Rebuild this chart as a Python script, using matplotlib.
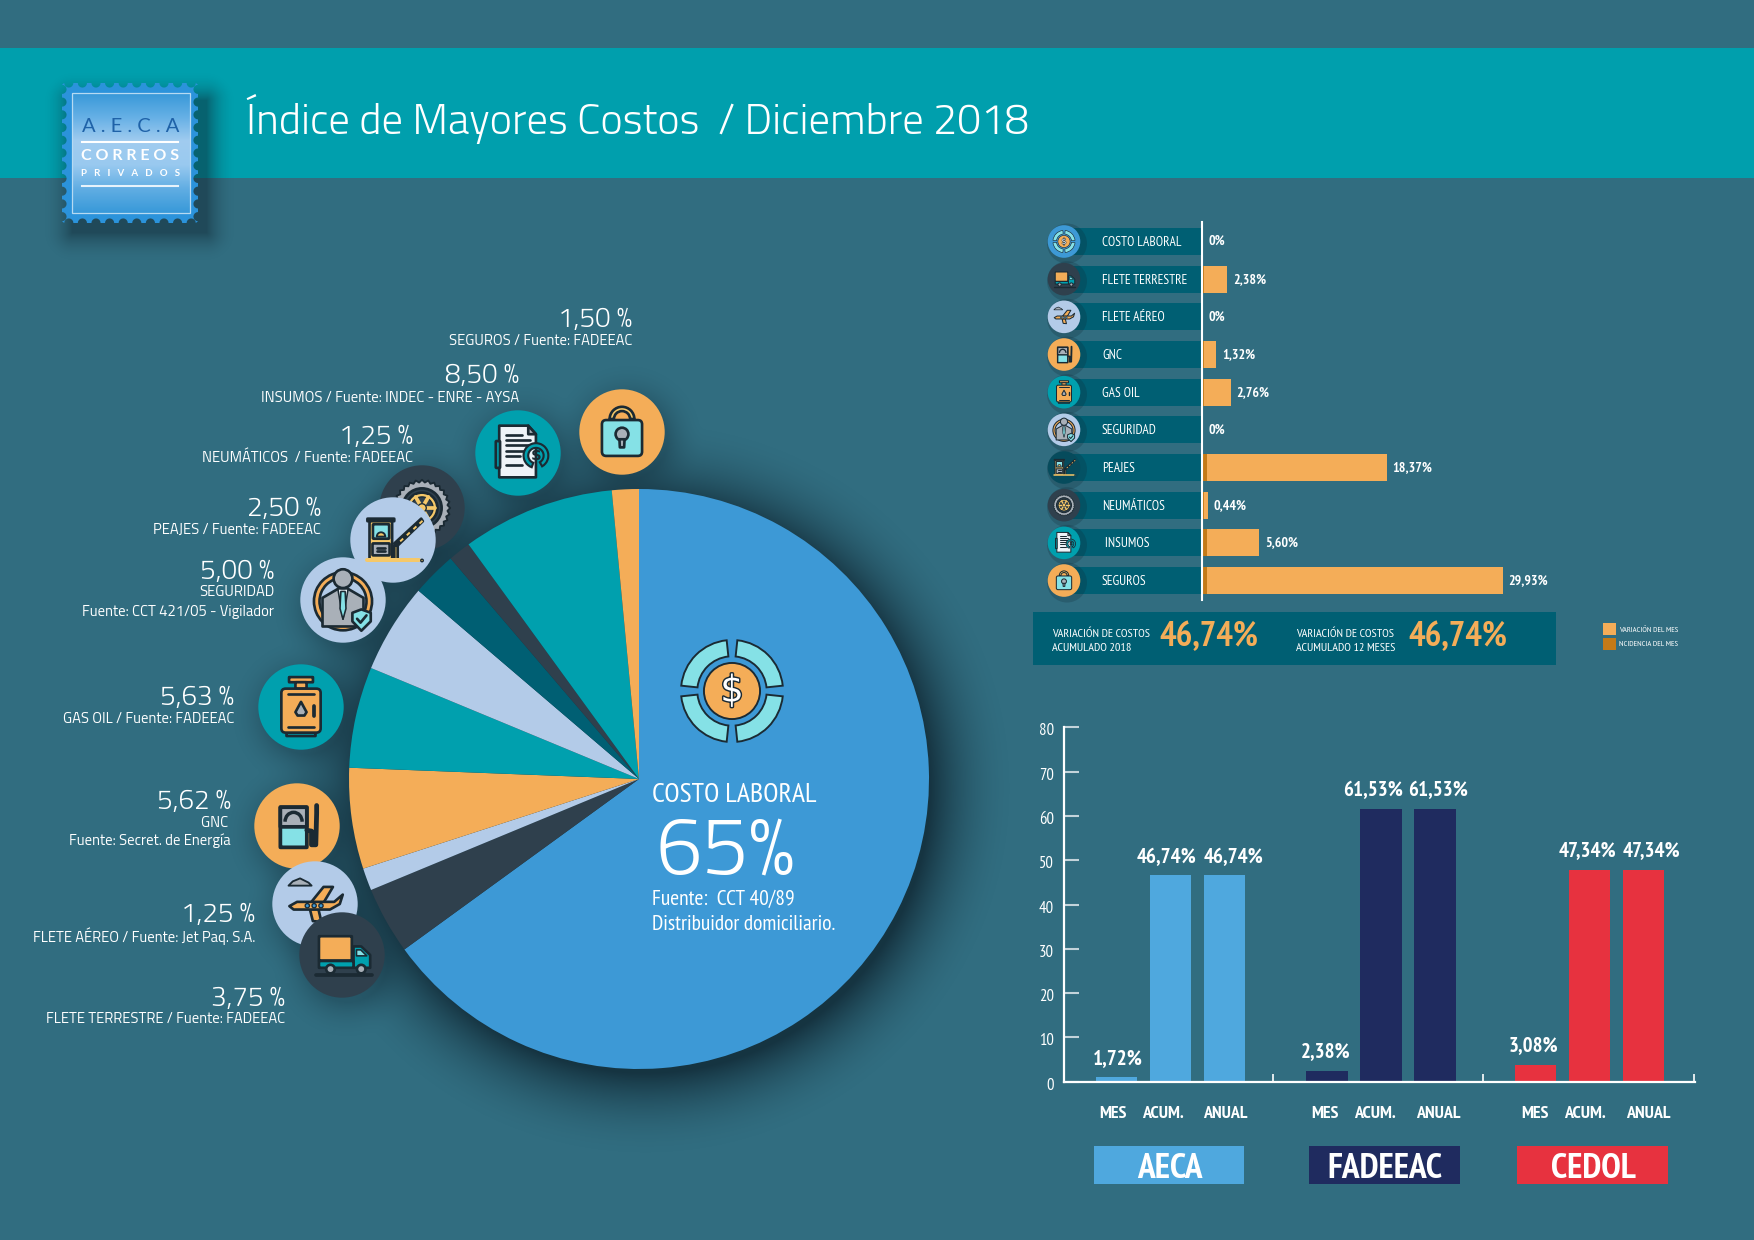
import numpy as np
import matplotlib
matplotlib.use('Agg')
import matplotlib.pyplot as plt
import matplotlib.patheffects as pe
from matplotlib.patches import Circle, Wedge, Rectangle, Polygon, FancyBboxPatch, PathPatch, Arc
from matplotlib.path import Path
from matplotlib.transforms import ScaledTranslation

W, H = 1754, 1240

BG = '#316D80'
BANNER = '#009FAD'
BAND = '#005F73'
ORANGE = '#F4AD58'
DARK_ORANGE = '#C47A17'
BLUE = '#3D99D6'
SLATE = '#2F404D'
PALE = '#B3CBE8'
TEAL = '#00A0AE'
AQUA = '#85E1E6'
GREY = '#A9B0B8'
YELLOW = '#F5C869'
INK = '#1B2A33'

WIDE = ['Titillium Web', 'Noto Sans', 'DejaVu Sans']
NARROW = ['PT Sans Narrow', 'Roboto Condensed', 'Liberation Sans', 'DejaVu Sans']
STAMP = ['Lato', 'DejaVu Sans']

# pie shares, clockwise from the top
pie_names = ['COSTO LABORAL', 'FLETE TERRESTRE', 'FLETE AÉREO', 'GNC', 'GAS OIL',
             'SEGURIDAD', 'PEAJES', 'NEUMÁTICOS', 'INSUMOS', 'SEGUROS']
pie_shares = [65, 3.75, 1.25, 5.62, 5.63, 5.00, 2.50, 1.25, 8.50, 1.50]
pie_colors = [BLUE, SLATE, PALE, ORANGE, TEAL, PALE, BAND, SLATE, TEAL, ORANGE]

# horizontal bars
row_names = ['COSTO LABORAL', 'FLETE TERRESTRE', 'FLETE AÉREO', 'GNC', 'GAS OIL',
             'SEGURIDAD', 'PEAJES', 'NEUMÁTICOS', ' INSUMOS', 'SEGUROS']
variacion = [0, 2.38, 0, 1.32, 2.76, 0, 18.37, 0.44, 5.60, 29.93]
incidencia = [0, 0.05, 0, 0.05, 0.1, 0, 0.35, 0.03, 0.35, 0.35]
variacion_txt = ['0%', '2,38%', '0%', '1,32%', '2,76%', '0%', '18,37%', '0,44%', '5,60%', '29,93%']

# grouped bars
groups = ['AECA', 'FADEEAC', 'CEDOL']
group_colors = ['#4FA8DE', '#1F2B5F', '#E7323F']
sub_labels = ['MES', 'ACUM.', 'ANUAL']
aeca = [1.15, 46.74, 46.74]
fadeeac = [2.38, 61.53, 61.53]
cedol = [3.7, 47.8, 47.8]
aeca_txt = ['1,72%', '46,74%', '46,74%']
fadeeac_txt = ['2,38%', '61,53%', '61,53%']
cedol_txt = ['3,08%', '47,34%', '47,34%']

fig = plt.figure(figsize=(W / 100, H / 100), dpi=100, facecolor=BG)


def px_axes(x0, y0, x1, y1, z):
    return fig.add_axes([x0 / W, 1 - y1 / H, (x1 - x0) / W, (y1 - y0) / H], zorder=z)


# background layer
back = px_axes(0, 0, W, H, 0)
back.set_xlim(0, W)
back.set_ylim(H, 0)
back.axis('off')
back.add_patch(Rectangle((0, 48), W, 130, fc=BANNER, ec='none'))

# soft shadows
yy, xx = np.mgrid[0:H, 0:W]


def soft_disc(cx, cy, r, blur, strength):
    d = np.hypot(xx - cx, yy - cy)
    return strength * np.clip(1 - (d - r) / blur, 0, 1) ** 2


def soft_box(x0, y0, x1, y1, blur, strength):
    dx = np.maximum(np.maximum(x0 - xx, xx - x1), 0)
    dy = np.maximum(np.maximum(y0 - yy, yy - y1), 0)
    return strength * np.clip(1 - np.hypot(dx, dy) / blur, 0, 1) ** 2


icon_spots = [('seguros', 622, 432, ORANGE), ('insumos', 518, 453, TEAL), ('tire', 422, 508, SLATE),
              ('peajes', 393, 540, PALE), ('seguridad', 343, 600, PALE), ('gas', 301, 707, TEAL),
              ('gnc', 297, 826, ORANGE), ('aereo', 315, 904, PALE), ('truck', 342, 955, SLATE)]
keep = np.ones((H, W))
keep *= 1 - soft_disc(645, 788, 285, 85, 0.8)
keep *= 1 - soft_box(72, 100, 206, 232, 30, 0.5)
for name, cx, cy, col in icon_spots:
    keep *= 1 - soft_disc(cx + 5, cy + 7, 40, 38, 0.3)
shade = np.zeros((H, W, 4))
shade[..., :3] = np.array([15, 38, 50]) / 255
shade[..., 3] = 1 - keep
back.imshow(shade, extent=(0, W, H, 0), zorder=2, aspect='auto', interpolation='bilinear')
back.set_xlim(0, W)
back.set_ylim(H, 0)

# pie
ax_pie = px_axes(639 - 290, 779 - 290, 639 + 290, 779 + 290, 1)
ax_pie.pie(pie_shares, colors=pie_colors, startangle=90, counterclock=False, radius=1,
           wedgeprops={'linewidth': 0})
ax_pie.set_xlim(-1, 1)
ax_pie.set_ylim(-1, 1)
ax_pie.patch.set_alpha(0)

# horizontal bars, one data unit is 10 pixels
ax_h = px_axes(1070, 222, 1602, 600, 2)
ax_h.patch.set_alpha(0)
row_y = np.arange(len(row_names))
ax_h.set_xlim(-13.2, 40)
ax_h.set_ylim(9.517, -0.518)
ax_h.barh(row_y, [-13] * len(row_y), height=0.72, color=BAND)
ax_h.barh(row_y, variacion, left=0.12, height=0.72, color=ORANGE)
ax_h.barh(row_y, incidencia, left=0.12, height=0.72, color=DARK_ORANGE)
for i, name in enumerate(row_names):
    ax_h.annotate(name, (-10, i), xytext=(0, -0.8), textcoords='offset points', color='white',
                  fontsize=9.6, va='center', family=NARROW)
    ax_h.annotate(variacion_txt[i], (variacion[i], i), xytext=(5 if variacion[i] else 4.5, 0),
                  textcoords='offset points', color='white', fontsize=10, fontweight='bold',
                  va='center', family=NARROW)
for side in ['top', 'right', 'bottom']:
    ax_h.spines[side].set_visible(False)
ax_h.spines['left'].set_position(('data', 0))
ax_h.spines['left'].set_color('white')
ax_h.spines['left'].set_linewidth(1.5)
ax_h.set_xticks([])
ax_h.set_yticks([])

# grouped bars, x axis runs in pixels of the page
AXIS_TOP, AXIS_BASE = 727.3, 1081.7
ax_v = px_axes(1063.5, AXIS_TOP, 1694.6, AXIS_BASE, 2)
ax_v.patch.set_alpha(0)
ax_v.set_xlim(1063.5, 1694.6)
ax_v.set_ylim(0, 80)
group_x = [1116.6, 1327, 1535.5]
for gx, vals, col in zip(group_x, [aeca, fadeeac, cedol], group_colors):
    xs = [gx + 54 * k for k in range(3)]
    ax_v.bar(xs, vals, width=41.5, color=col)
for xc, yc, s in [(1118, 1059, aeca_txt[0]), (1166.5, 858, aeca_txt[1]), (1233, 858, aeca_txt[2]),
                  (1326, 1052, fadeeac_txt[0]), (1373.5, 791, fadeeac_txt[1]), (1438, 791, fadeeac_txt[2]),
                  (1533.6, 1046, cedol_txt[0]), (1587, 851, cedol_txt[1]), (1651, 851, cedol_txt[2])]:
    ax_v.annotate(s, (xc, 0), xycoords=('data', 'axes fraction'),
                  xytext=(0, (AXIS_BASE - yc) * 0.72), textcoords='offset points',
                  color='white', fontsize=15, fontweight='bold', ha='center', va='center', family=NARROW)
for side in ['top', 'right']:
    ax_v.spines[side].set_visible(False)
for side in ['left', 'bottom']:
    ax_v.spines[side].set_color('white')
    ax_v.spines[side].set_linewidth(1.6)
ax_v.set_yticks(range(0, 81, 10))
ax_v.tick_params(axis='y', direction='in', length=11, width=1.5, color='#C3D3DA',
                 labelcolor='white', labelsize=12, pad=7)
ax_v.set_xticks([1273, 1482.5, 1693.8])
ax_v.set_xticklabels([])
ax_v.tick_params(axis='x', direction='in', length=6, width=1.2, color='white')
for lab in ax_v.get_yticklabels():
    lab.set_family(NARROW)
    lab.set_transform(lab.get_transform() + ScaledTranslation(0, -2 / 100, fig.dpi_scale_trans))

# top layer, page pixels
top = px_axes(0, 0, W, H, 5)
top.set_xlim(0, W)
top.set_ylim(H, 0)
top.axis('off')


def label(x, y, s, size, ha='right', weight='normal', family=WIDE, color='white', **kw):
    return top.text(x, y, s, fontsize=size, ha=ha, va='center', fontweight=weight,
                    family=family, color=color, **kw)


# stamp
def stamp_path(x0, y0, x1, y1, n_x, n_y, notch):
    pts = []

    def edge(ax0, ay0, ax1, ay1, n, nx, ny):
        for k in range(n):
            c = (k + 0.5) / n
            mx, my = ax0 + (ax1 - ax0) * c, ay0 + (ay1 - ay0) * c
            ux, uy = (ax1 - ax0) / np.hypot(ax1 - ax0, ay1 - ay0), (ay1 - ay0) / np.hypot(ax1 - ax0, ay1 - ay0)
            for t in np.linspace(np.pi, 0, 9):
                pts.append((mx + ux * notch * np.cos(t) + nx * notch * np.sin(t),
                            my + uy * notch * np.cos(t) + ny * notch * np.sin(t)))
    edge(x0, y0, x1, y0, n_x, 0, 1)
    edge(x1, y0, x1, y1, n_y, -1, 0)
    edge(x1, y1, x0, y1, n_x, 0, -1)
    edge(x0, y1, x0, y0, n_y, 1, 0)
    return Path(pts + [pts[0]], closed=True)


grad = np.array([[0.22, 0.60, 0.85], [0.40, 0.69, 0.90], [0.63, 0.80, 0.94], [0.60, 0.79, 0.94],
                 [0.38, 0.68, 0.89], [0.22, 0.60, 0.85]])
grad_img = np.linspace(0, 1, 120)
grad_rgb = np.stack([np.interp(grad_img, np.linspace(0, 1, 6), grad[:, c]) for c in range(3)], axis=1)[:, None, :]
top.add_patch(PathPatch(stamp_path(62, 83, 198, 223, 10, 11, 4.6), fc='#2B93DB', ec='none', zorder=1))
top.imshow(grad_rgb, extent=(71.6, 189.5, 213, 93), aspect='auto', zorder=1.1)
top.add_patch(Rectangle((71.6, 93), 117.9, 120, fc='none', ec='#B6DAF2', lw=0.9, zorder=1.2))
top.set_xlim(0, W)
top.set_ylim(H, 0)
label(130.5, 127, 'A . E . C . A', 14.5, ha='center', family=STAMP, color='#1F62A8', zorder=2)
top.plot([82, 178], [142, 142], color='white', lw=1.5, zorder=2)
label(130.5, 156, 'C O R R E O S', 11.5, ha='center', weight='bold', family=STAMP, zorder=2)
label(130.5, 173, 'P   R   I   V   A   D   O   S', 7, ha='center', weight='bold', family=STAMP, zorder=2)
top.plot([82, 178], [186, 186], color='#E6F2FB', lw=1.5, zorder=2)

title = label(246, 119, 'Índice de Mayores Costos  / Diciembre 2018', 30.7, ha='left', weight=300)


# icons, drawn in units of the circle radius with y pointing down
def icon(kind, cx, cy, r, bg=None, z=3):
    lw = max(r * 0.045, 0.45)

    def add(p):
        p.set_zorder(z)
        top.add_patch(p)

    def pt(x, y):
        return (cx + x * r, cy + y * r)

    def poly(pts, fc, ec=INK, w=lw):
        add(Polygon([pt(*p) for p in pts], closed=True, fc=fc, ec=ec, lw=w, joinstyle='round'))

    def box(x0, y0, x1, y1, fc, ec=INK, w=lw, round_=0.06):
        add(FancyBboxPatch(pt(x0, y0), (x1 - x0) * r, (y1 - y0) * r,
                           boxstyle='round,pad=0,rounding_size=%f' % (round_ * r), fc=fc, ec=ec, lw=w))

    def disc(x, y, rad, fc, ec=INK, w=lw):
        add(Circle(pt(x, y), rad * r, fc=fc, ec=ec, lw=w))

    def line(pts, col=INK, w=lw):
        xs, ys = zip(*[pt(*p) for p in pts])
        top.plot(xs, ys, color=col, lw=w, zorder=z, solid_capstyle='round')

    if bg is not None:
        add(Circle((cx, cy), r, fc=bg, ec='none'))

    if kind == 'dollar':
        s = 1.0 if bg is None else 0.68
        for a in [0, 90, 180, 270]:
            add(Wedge((cx, cy), s * r, a + 6, a + 84, width=0.32 * s * r, fc=AQUA, ec=INK, lw=lw * 0.6))
        disc(0, 0, 0.55 * s, ORANGE, w=lw * 0.6)
        t = top.text(cx, cy, '$', fontsize=max(r * 0.52 * s, 3), color='white', ha='center',
                     va='center', family=['DejaVu Sans'], zorder=z)
        t.set_path_effects([pe.withStroke(linewidth=max(lw * 0.9, 0.6), foreground=INK)])
    elif kind == 'seguros':
        add(Wedge(pt(0, -0.3), 0.29 * r, 180, 360, width=0.1 * r, fc=YELLOW, ec=INK, lw=lw))
        box(-0.29, -0.3, -0.19, -0.22, YELLOW, round_=0.01)
        box(0.19, -0.3, 0.29, -0.22, YELLOW, round_=0.01)
        box(-0.47, -0.28, 0.47, 0.56, AQUA, round_=0.1)
        disc(0, 0.05, 0.15, GREY)
        poly([(-0.06, 0.17), (0.06, 0.17), (0.05, 0.36), (-0.05, 0.36)], GREY)
    elif kind == 'insumos':
        poly([(-0.44, -0.64), (0.24, -0.64), (0.42, -0.44), (0.42, 0.57), (-0.44, 0.57)], '#EEF3F8')
        poly([(0.24, -0.64), (0.42, -0.44), (0.24, -0.44)], GREY)
        for ly, lx in [(-0.42, 0.1), (-0.3, 0.27), (-0.18, 0.27), (-0.05, 0.15), (0.08, 0.05), (0.28, 0.1)]:
            line([(-0.27, ly), (lx, ly)])
        box(-0.52, -0.28, -0.42, 0.35, TEAL, round_=0.02)
        add(Wedge(pt(0.42, 0.06), 0.29 * r, -250, 60, width=0.11 * r, fc=TEAL, ec=INK, lw=lw * 0.8))
        top.text(cx + 0.42 * r, cy + 0.06 * r, '$', fontsize=max(r * 0.26, 2), color=INK, ha='center',
                 va='center', fontweight='bold', family=['DejaVu Sans'], zorder=z)
    elif kind == 'tire':
        ang = np.linspace(0, 2 * np.pi, 57)[:-1]
        rad = np.where(np.arange(56) % 2 == 0, 0.66, 0.6)
        poly(list(zip(rad * np.cos(ang), rad * np.sin(ang))), GREY, w=lw * 0.7)
        disc(0, 0, 0.46, SLATE)
        disc(0, 0, 0.36, YELLOW)
        disc(0, 0, 0.26, SLATE, w=lw * 0.5)
        for a in np.linspace(0, 2 * np.pi, 7)[:-1]:
            line([(0.1 * np.cos(a), 0.1 * np.sin(a)), (0.3 * np.cos(a), 0.3 * np.sin(a))], YELLOW, lw * 1.4)
        disc(0, 0, 0.1, YELLOW, w=lw * 0.5)
    elif kind == 'peajes':
        box(-0.6, -0.5, 0.03, -0.44, YELLOW, round_=0.01)
        box(-0.55, -0.44, -0.02, 0.46, YELLOW, round_=0.02)
        box(-0.47, -0.37, -0.09, -0.03, AQUA, round_=0.02)
        add(Wedge(pt(-0.28, -0.08), 0.1 * r, 180, 360, fc=YELLOW, ec=INK, lw=lw * 0.7))
        box(-0.48, 0.08, -0.08, 0.36, GREY, round_=0.02)
        line([(-0.38, 0.18), (-0.18, 0.18)])
        line([(-0.38, 0.26), (-0.18, 0.26)])
        box(0.03, 0.12, 0.11, 0.48, YELLOW, round_=0.01)
        poly([(0.03, 0.08), (0.66, -0.5), (0.7, -0.44), (0.1, 0.14)], INK)
        for t in [0.15, 0.4, 0.65, 0.88]:
            x, y = 0.06 + 0.62 * t, 0.1 - 0.57 * t
            poly([(x, y), (x + 0.07, y - 0.065), (x + 0.1, y - 0.03), (x + 0.03, y + 0.035)], YELLOW, w=0)
        line([(-0.6, 0.48), (0.62, 0.48)], YELLOW, lw * 1.5)
        disc(0.68, 0.48, 0.03, YELLOW, w=lw * 0.5)
    elif kind == 'seguridad':
        add(Wedge(pt(0, 0.03), 0.68 * r, 0, 360, width=0.13 * r, fc=ORANGE, ec=INK, lw=lw))
        poly([(-0.48, 0.62), (-0.48, -0.05), (-0.12, -0.26), (0.12, -0.26), (0.48, -0.05), (0.48, 0.62)], GREY)
        poly([(-0.12, -0.26), (0.12, -0.26), (0, 0.45)], '#EEF3F8', w=lw * 0.6)
        poly([(-0.05, -0.2), (0.05, -0.2), (0.07, 0.2), (0, 0.45), (-0.07, 0.2)], AQUA, w=lw * 0.6)
        disc(0, -0.5, 0.22, GREY)
        poly([(0.22, 0.3), (0.43, 0.22), (0.65, 0.3), (0.65, 0.5), (0.43, 0.72), (0.22, 0.5)], AQUA)
        line([(0.33, 0.44), (0.41, 0.53), (0.55, 0.36)], INK, lw)
    elif kind == 'gas':
        box(-0.28, -0.7, 0.28, -0.58, ORANGE, round_=0.01)
        box(-0.13, -0.58, 0.13, -0.43, ORANGE, round_=0.01)
        box(-0.34, 0.6, 0.34, 0.68, TEAL, round_=0.01)
        box(-0.46, -0.43, 0.46, 0.6, ORANGE, round_=0.1)
        line([(-0.3, -0.3), (0.3, -0.3)])
        line([(-0.3, 0.47), (0.3, 0.47)])
        poly([(0, -0.12), (0.13, 0.12), (0.08, 0.2), (-0.08, 0.2), (-0.13, 0.12)], GREY)
        line([(0.3, -0.02), (0.3, 0.2)], INK, lw * 1.4)
    elif kind == 'gnc':
        box(-0.39, -0.44, 0.23, 0.5, AQUA, w=lw * 1.4, round_=0.01)
        box(-0.39, -0.44, 0.23, 0.02, GREY, w=lw * 1.4, round_=0.01)
        add(Arc(pt(-0.08, -0.1), 0.4 * r, 0.44 * r, theta1=180, theta2=360, color=INK, lw=lw * 1.3))
        line([(0.23, 0.1), (0.34, 0.12), (0.34, 0.44), (0.44, 0.44), (0.46, -0.3), (0.46, -0.48)], INK, lw * 1.8)
    elif kind == 'aereo':
        poly([(-0.62, -0.43), (-0.52, -0.53), (-0.35, -0.6), (-0.15, -0.5), (-0.08, -0.43)], GREY, w=lw * 0.7)
        poly([(-0.1, -0.03), (0.2, -0.4), (0.42, -0.4), (0.2, -0.03)], ORANGE)
        poly([(-0.12, 0.12), (0.08, 0.12), (0.15, 0.42), (-0.05, 0.4)], ORANGE)
        poly([(-0.6, 0.05), (-0.42, -0.05), (0.45, -0.05), (0.65, -0.22), (0.58, 0.0), (0.35, 0.13), (-0.5, 0.13)], ORANGE)
        for x in [-0.18, -0.02, 0.14]:
            disc(x, 0.04, 0.05, BLUE, w=lw * 0.5)
    elif kind == 'truck':
        box(-0.54, -0.44, 0.23, 0.13, ORANGE, round_=0.01)
        poly([(0.27, -0.2), (0.45, -0.2), (0.66, 0.0), (0.66, 0.3), (0.27, 0.3)], TEAL)
        poly([(0.34, -0.12), (0.44, -0.12), (0.58, 0.02), (0.34, 0.02)], AQUA, w=lw * 0.6)
        box(-0.54, 0.14, 0.27, 0.3, TEAL, round_=0.01)
        disc(-0.27, 0.33, 0.1, GREY)
        disc(0.45, 0.33, 0.1, GREY)
        line([(-0.6, 0.47), (0.7, 0.47)], INK, lw * 1.4)


icon('dollar', 732, 691, 51)
for name, cx, cy, col in icon_spots:
    icon(name, cx, cy, 42.7, col)

# pie texts
pie_labels = [
    (632, 320, '1,50 %', [(341, 'SEGUROS / Fuente: FADEEAC')]),
    (519, 376, '8,50 %', [(398, 'INSUMOS / Fuente: INDEC - ENRE - AYSA')]),
    (413, 437, '1,25 %', [(457, 'NEUMÁTICOS  / Fuente: FADEEAC')]),
    (321, 509, '2,50 %', [(530, 'PEAJES / Fuente: FADEEAC')]),
    (274, 572, '5,00 %', [(592, 'SEGURIDAD'), (612, 'Fuente: CCT 421/05 - Vigilador')]),
    (234, 698, '5,63 %', [(719, 'GAS OIL / Fuente: FADEEAC')]),
    (231, 802, '5,62 %', [(823, 'GNC '), (841, 'Fuente: Secret. de Energía')]),
    (255, 915, '1,25 %', [(936, 'FLETE AÉREO / Fuente: Jet Paq. S.A.')]),
    (285, 999, '3,75 %', [(1019, 'FLETE TERRESTRE / Fuente: FADEEAC')]),
]
for x, y, big, subs in pie_labels:
    label(x, y, big, 20, weight=300)
    for sy, s in subs:
        label(x, sy, s, 10.6)

label(652, 795, 'COSTO LABORAL', 20, ha='left', family=NARROW)
label(655, 853, '65%', 60, ha='left', weight=300)
label(652, 899, 'Fuente:  CCT 40/89', 15.5, ha='left', family=NARROW)
label(652, 925, 'Distribuidor domiciliario.', 15.5, ha='left', family=NARROW)

# small icons beside the rows
row_icons = [('dollar', BLUE), ('truck', SLATE), ('aereo', PALE), ('gnc', ORANGE), ('gas', TEAL),
             ('seguridad', PALE), ('peajes', '#064B5C'), ('tire', SLATE), ('insumos', TEAL), ('seguros', ORANGE)]
for i, (kind, col) in enumerate(row_icons):
    yc = 241.5 + 37.67 * i
    top.add_patch(Circle((1067, yc + 2), 20, fc='#0F2632', ec='none', alpha=0.22, zorder=2.9))
    icon(kind, 1064, yc, 16.3, col)

# summary box
top.add_patch(Rectangle((1032.6, 612), 523.4, 52.5, fc=BAND, ec='none', zorder=1))
label(1052, 634, 'VARIACIÓN DE COSTOS', 8.7, ha='left', family=NARROW)
label(1052, 648, 'ACUMULADO 2018', 8.7, ha='left', family=NARROW)
label(1159, 637, '46,74%', 25, ha='left', weight='bold', family=NARROW, color=ORANGE)
label(1296, 634, 'VARIACIÓN DE COSTOS', 8.7, ha='left', family=NARROW)
label(1296, 648, 'ACUMULADO 12 MESES', 8.7, ha='left', family=NARROW)
label(1408, 637, '46,74%', 25, ha='left', weight='bold', family=NARROW, color=ORANGE)

top.add_patch(Rectangle((1603, 623), 12.5, 12, fc=ORANGE, ec='none'))
top.add_patch(Rectangle((1603, 638), 12.5, 12, fc=DARK_ORANGE, ec='none'))
label(1619, 630, 'VARIACIÓN DEL MES', 6, ha='left', family=NARROW)
label(1619, 645, 'NCIDENCIA DEL MES', 6, ha='left', family=NARROW)

# group captions
for xs in [(1112.7, 1162.8, 1225.5), (1325, 1375, 1438), (1535, 1584.6, 1648)]:
    for x, s in zip(xs, sub_labels):
        label(x, 1114, s, 13, ha='center', weight='bold', family=NARROW)
for (x0, x1), name, col in zip([(1093.5, 1244), (1309, 1459.6), (1517, 1667.5)], groups, group_colors):
    top.add_patch(Rectangle((x0, 1146), x1 - x0, 38, fc=col, ec='none', zorder=1))
    label((x0 + x1) / 2 + 1, 1169, name, 25.5, ha='center', weight='bold', family=NARROW, zorder=2)

fig.savefig('out.png', dpi=100, facecolor=BG)
